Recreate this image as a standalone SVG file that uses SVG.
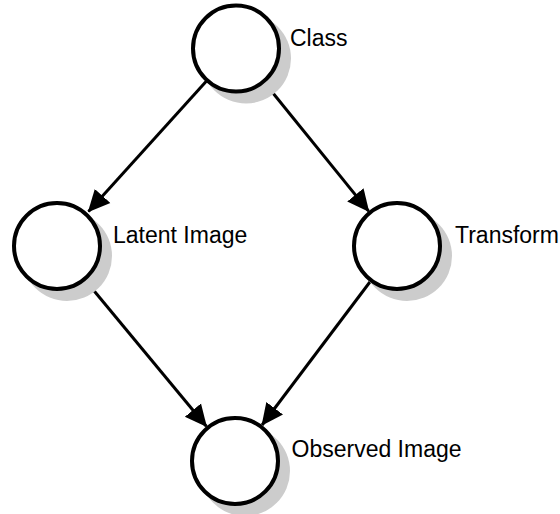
<svg xmlns="http://www.w3.org/2000/svg" width="560" height="514" viewBox="0 0 560 514">
<style>
.shadow{fill:#cccccc;stroke:none}
.node{fill:#ffffff;stroke:#000000;stroke-width:4}
.lbl{font-family:"Liberation Sans",Arial,sans-serif;font-size:23px;fill:#000000}
.edge{stroke:#000000;stroke-width:3;fill:none;marker-end:url(#arrow)}
</style>
<defs>
<marker id="arrow" markerUnits="userSpaceOnUse" markerWidth="24" markerHeight="24" refX="21" refY="11" orient="auto">
<path d="M0,0.5 L22,11 L0,21.5 z" fill="#000000"/>
</marker>
</defs>
<g id="connectors">
<line class="edge" x1="206.5" y1="81" x2="88.5" y2="211.5"/>
<line class="edge" x1="264" y1="82" x2="368.6" y2="211.1"/>
<line class="edge" x1="85.7" y1="280.7" x2="206.3" y2="426.3"/>
<line class="edge" x1="369.9" y1="282" x2="262.1" y2="425"/>
</g>
<g id="class">
<circle class="shadow" cx="246" cy="58.5" r="45"/>
<circle class="node" cx="236" cy="48.5" r="43"/>
<text class="lbl" x="290" y="46">Class</text>
</g>
<g id="latent">
<circle class="shadow" cx="67" cy="256" r="45"/>
<circle class="node" cx="57" cy="246" r="43"/>
<text class="lbl" x="113" y="243">Latent Image</text>
</g>
<g id="transform">
<circle class="shadow" cx="407" cy="256" r="45"/>
<circle class="node" cx="397" cy="246" r="43"/>
<text class="lbl" x="455" y="243">Transform</text>
</g>
<g id="observed">
<circle class="shadow" cx="245" cy="471" r="45"/>
<circle class="node" cx="235" cy="461" r="43"/>
<text class="lbl" x="291.5" y="457">Observed Image</text>
</g>
</svg>
